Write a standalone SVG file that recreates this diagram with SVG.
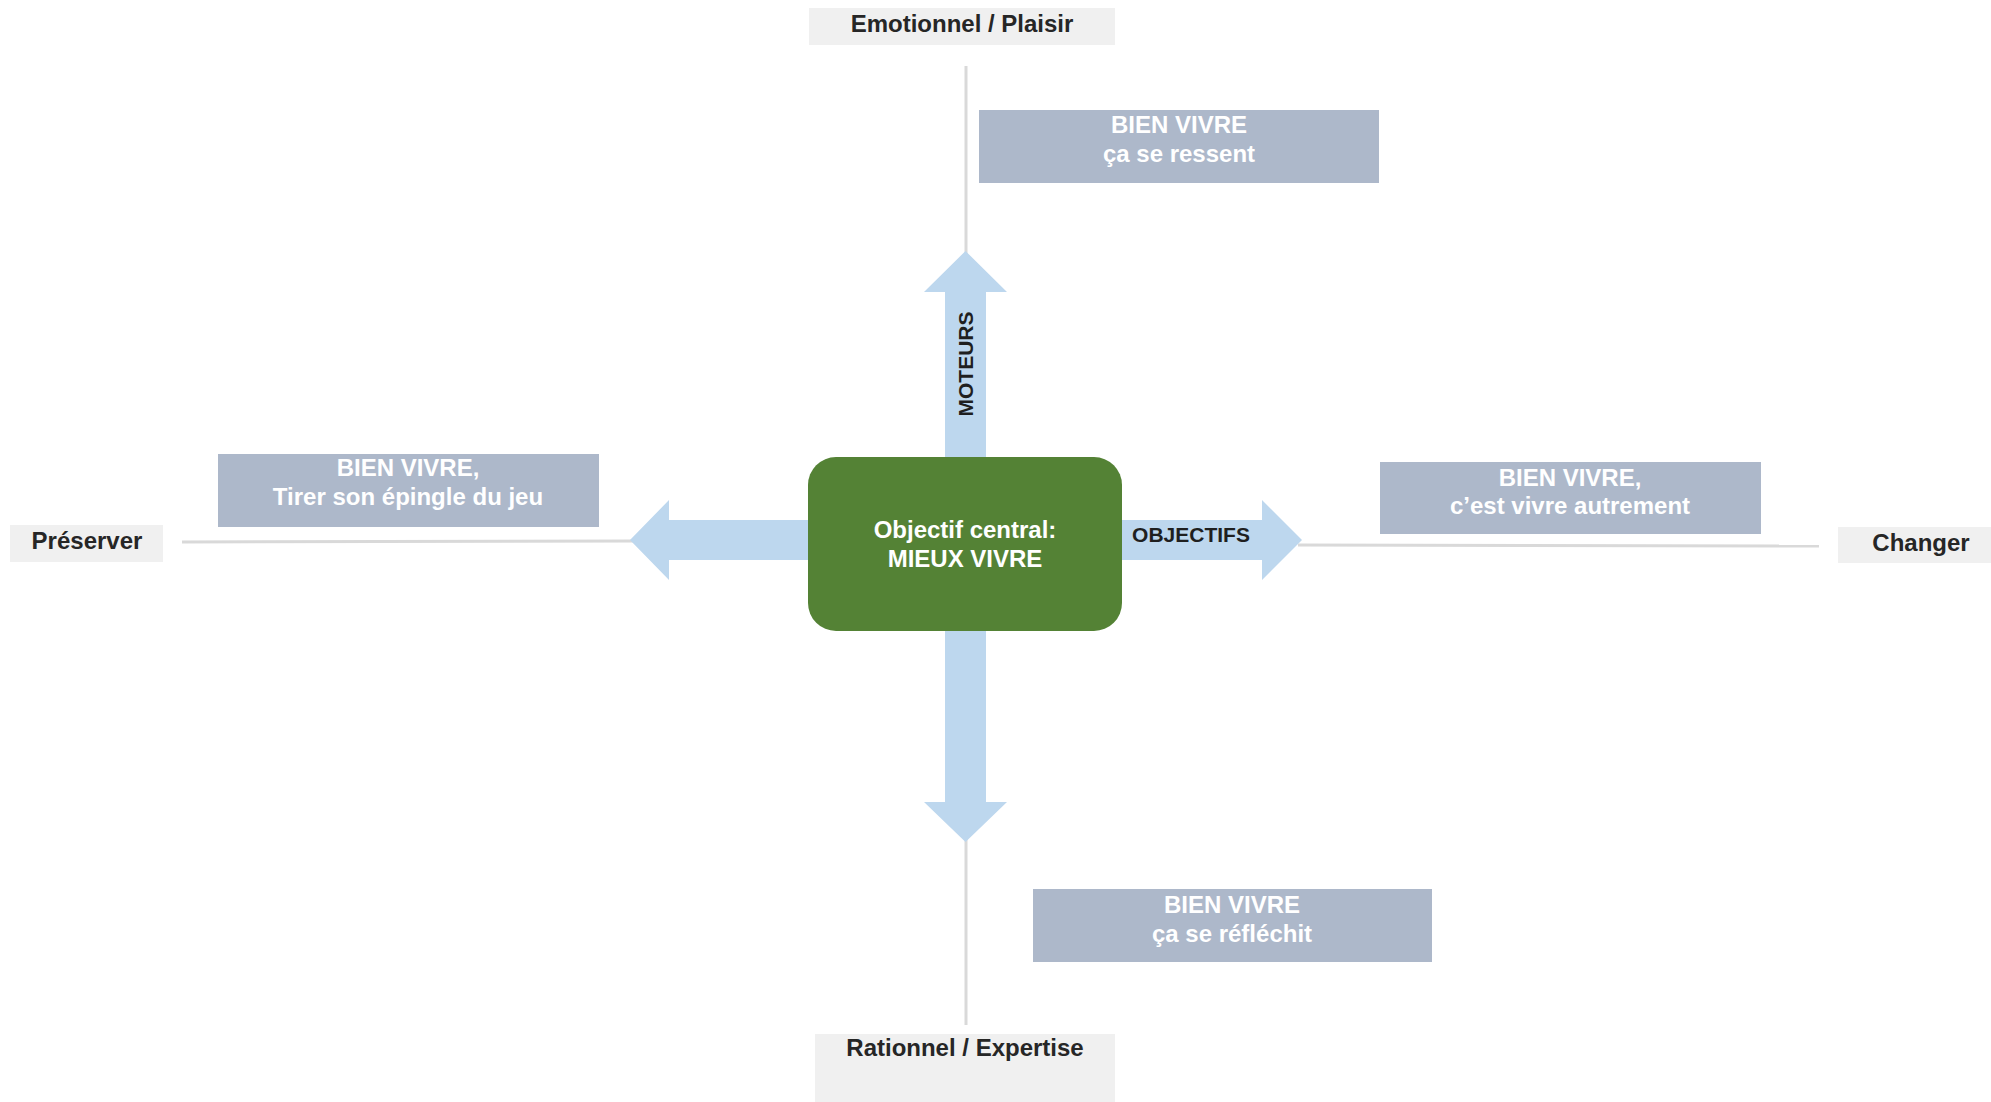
<svg xmlns="http://www.w3.org/2000/svg" width="1991" height="1102" viewBox="0 0 1991 1102">
<style>
.axis{fill:#f0f0f0}
.axt{font-family:"Liberation Sans",Arial,sans-serif;font-weight:bold;font-size:24px;fill:#262626;text-anchor:middle}
.bv{fill:#adb8ca}
.bvt{font-family:"Liberation Sans",Arial,sans-serif;font-weight:bold;font-size:24px;fill:#ffffff;text-anchor:middle}
.line{stroke:#d9d9d9;stroke-width:3;fill:none}
.arr{fill:#bdd7ee}
.lbl{font-family:"Liberation Sans",Arial,sans-serif;font-weight:bold;font-size:21px;fill:#1f1f1f;text-anchor:middle}
</style>
<rect width="1991" height="1102" fill="#ffffff"/>
<g id="connectors">
  <line class="line" x1="966" y1="66" x2="966" y2="255"/>
  <line class="line" x1="966" y1="838" x2="966" y2="1025"/>
  <line class="line" x1="182" y1="542" x2="634" y2="541"/>
  <line class="line" x1="1298" y1="545" x2="1819" y2="546"/>
  <polygon id="arrow-up" class="arr" points="945,470 945,292 924,292 965.5,251 1007,292 986,292 986,470"/>
  <polygon id="arrow-down" class="arr" points="945,620 945,802 924,802 965.5,842 1007,802 986,802 986,620"/>
  <polygon id="arrow-left" class="arr" points="820,520 669,520 669,500 630,540 669,580 669,560 820,560"/>
  <polygon id="arrow-right" class="arr" points="1110,520 1262,520 1262,500 1302,540 1262,580 1262,560 1110,560"/>
  <text class="lbl" transform="translate(973,364) rotate(-90)" x="0" y="0">MOTEURS</text>
  <text class="lbl" x="1191" y="542">OBJECTIFS</text>
</g>
<g id="center">
  <rect x="808" y="457" width="314" height="174" rx="28" ry="28" fill="#548235"/>
  <text class="bvt" x="965" y="538">Objectif central:</text>
  <text class="bvt" x="965" y="567">MIEUX VIVRE</text>
</g>
<g id="axis-top">
  <rect class="axis" x="809" y="8" width="306" height="37"/>
  <text class="axt" x="962" y="32">Emotionnel / Plaisir</text>
</g>
<g id="axis-bottom">
  <rect class="axis" x="815" y="1034" width="300" height="68"/>
  <text class="axt" x="965" y="1056">Rationnel / Expertise</text>
</g>
<g id="axis-left">
  <rect class="axis" x="10" y="525" width="153" height="37"/>
  <text class="axt" x="87" y="549">Préserver</text>
</g>
<g id="axis-right">
  <rect class="axis" x="1838" y="527" width="153" height="36"/>
  <text class="axt" x="1921" y="551">Changer</text>
</g>
<g id="bv-top">
  <rect class="bv" x="979" y="110" width="400" height="73"/>
  <text class="bvt" x="1179" y="133">BIEN VIVRE</text>
  <text class="bvt" x="1179" y="162">ça se ressent</text>
</g>
<g id="bv-left">
  <rect class="bv" x="218" y="454" width="381" height="73"/>
  <text class="bvt" x="408" y="476">BIEN VIVRE,</text>
  <text class="bvt" x="408" y="505">Tirer son épingle du jeu</text>
</g>
<g id="bv-right">
  <rect class="bv" x="1380" y="462" width="381" height="72"/>
  <text class="bvt" x="1570" y="486">BIEN VIVRE,</text>
  <text class="bvt" x="1570" y="514">c’est vivre autrement</text>
</g>
<g id="bv-bottom">
  <rect class="bv" x="1033" y="889" width="399" height="73"/>
  <text class="bvt" x="1232" y="913">BIEN VIVRE</text>
  <text class="bvt" x="1232" y="942">ça se réfléchit</text>
</g>
</svg>
